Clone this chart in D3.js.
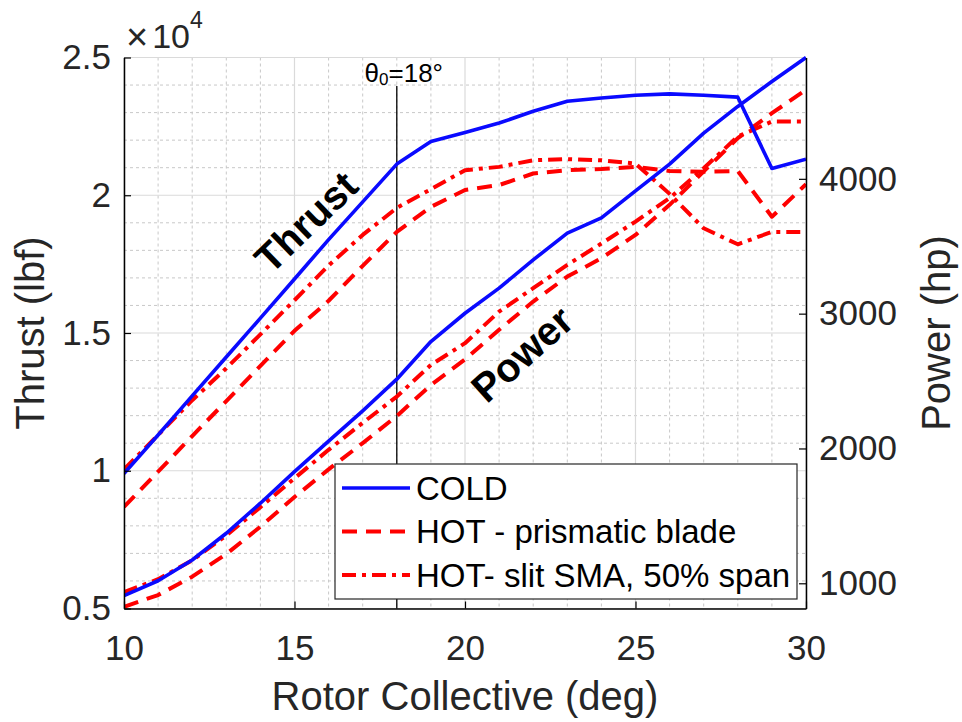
<!DOCTYPE html>
<html>
<head>
<meta charset="utf-8">
<script src="https://cdn.jsdelivr.net/npm/d3@7"></script>
<style>
  body { margin: 0; background: #fff; }
  svg { font-family: Helvetica, Arial, "Liberation Sans", sans-serif; }
</style>
</head>
<body>
<script>
// collective angle, deg
var collective = [10, 11, 12, 13, 14, 15, 16, 17, 18, 19, 20, 21, 22, 23, 24, 25, 26, 27, 28, 29, 30];

// thrust, lbf (left axis)
var coldThrust = [9900, 11300, 12720, 14130, 15540, 16960, 18390, 19760, 21130, 21950, 22280, 22620, 23050, 23410, 23530, 23630, 23680, 23630, 23560, 20970, 21310];
var hotPrisThrust = [8690, 9970, 11260, 12530, 13810, 15080, 16170, 17440, 18670, 19580, 20190, 20370, 20790, 20910, 20950, 21030, 20880, 20850, 20880, 19220, 20400];
var hotSlitThrust = [10050, 11300, 12560, 13720, 14950, 16190, 17450, 18560, 19540, 20220, 20910, 21030, 21270, 21310, 21270, 21150, 20050, 18800, 18220, 18670, 18670];

// power, hp (right axis)
var coldPower = [908, 1019, 1173, 1371, 1594, 1828, 2054, 2279, 2514, 2793, 3003, 3189, 3399, 3597, 3710, 3911, 4109, 4339, 4537, 4722, 4900];
var hotPrisPower = [826, 913, 1049, 1217, 1420, 1640, 1845, 2040, 2241, 2471, 2660, 2880, 3090, 3275, 3411, 3584, 3807, 4055, 4302, 4487, 4660];
var hotSlitPower = [935, 1030, 1170, 1355, 1565, 1779, 1990, 2190, 2385, 2620, 2781, 3015, 3189, 3362, 3520, 3683, 3857, 4079, 4314, 4425, 4425];

var xTicks = [10, 15, 20, 25, 30];
var thrustTicks = [5000, 10000, 15000, 20000, 25000];
var powerTicks = [1000, 2000, 3000, 4000];
var legendLabels = ['COLD', 'HOT - prismatic blade', 'HOT- slit SMA, 50% span'];

var plotLeft = 124, plotRight = 806, plotTop = 57.5, plotBottom = 608.5;
var textColor = '#262626';
var blue = '#0a0aff', red = '#ff0000';
var dashed = '15,9', dashDot = '14,6,4,6';

var svg = d3.select('body').append('svg')
    .attr('width', 962)
    .attr('height', 722);

var x = d3.scaleLinear().domain([10, 30]).range([plotLeft, plotRight]);
var yT = d3.scaleLinear().domain([5000, 25000]).range([plotBottom, plotTop]);
var yP = d3.scaleLinear().domain([813, 4900]).range([plotBottom, plotTop]);

svg.append('clipPath').attr('id', 'plot-clip')
    .append('rect')
    .attr('x', plotLeft).attr('y', plotTop - 3)
    .attr('width', plotRight - plotLeft).attr('height', plotBottom - plotTop + 3);

// grid, minor first
var grid = svg.append('g');
grid.selectAll('.minor-x')
    .data(d3.range(11, 30).filter(function(d) { return d % 5 !== 0; }))
    .enter().append('line')
    .attr('x1', function(d) { return x(d); }).attr('x2', function(d) { return x(d); })
    .attr('y1', plotTop).attr('y2', plotBottom)
    .attr('stroke', '#c8c8c8').attr('stroke-width', 1).attr('stroke-dasharray', '3,3');
grid.selectAll('.minor-y')
    .data(d3.range(6000, 25000, 1000).filter(function(d) { return d % 5000 !== 0; }))
    .enter().append('line')
    .attr('x1', plotLeft).attr('x2', plotRight)
    .attr('y1', function(d) { return yT(d); }).attr('y2', function(d) { return yT(d); })
    .attr('stroke', '#c8c8c8').attr('stroke-width', 1).attr('stroke-dasharray', '3,3');
grid.selectAll('.major-x')
    .data(xTicks)
    .enter().append('line')
    .attr('x1', function(d) { return x(d); }).attr('x2', function(d) { return x(d); })
    .attr('y1', plotTop).attr('y2', plotBottom)
    .attr('stroke', '#dadada').attr('stroke-width', 1.2);
grid.selectAll('.major-y')
    .data(thrustTicks)
    .enter().append('line')
    .attr('x1', plotLeft).attr('x2', plotRight)
    .attr('y1', function(d) { return yT(d); }).attr('y2', function(d) { return yT(d); })
    .attr('stroke', '#dadada').attr('stroke-width', 1.2);

// theta0 marker
svg.append('line')
    .attr('x1', x(18)).attr('x2', x(18))
    .attr('y1', 86).attr('y2', plotBottom)
    .attr('stroke', '#000').attr('stroke-width', 1.3);
var theta = svg.append('text')
    .attr('x', x(18) + 7).attr('y', 82)
    .attr('text-anchor', 'middle')
    .attr('font-size', 26)
    .attr('fill', '#000');
theta.append('tspan').text('\u03b8');
theta.append('tspan').attr('font-size', 17).attr('dy', 3).text('0');
theta.append('tspan').attr('dy', -3).text('=18\u00b0');

// curves
var plot = svg.append('g').attr('clip-path', 'url(#plot-clip)');

function drawSeries(values, yScale, color, dash) {
    var line = d3.line()
        .x(function(d, i) { return x(collective[i]); })
        .y(function(d) { return yScale(d); });
    plot.append('path')
        .datum(values)
        .attr('d', line)
        .attr('fill', 'none')
        .attr('stroke', color)
        .attr('stroke-width', dash ? 4 : 3.6)
        .attr('stroke-dasharray', dash)
        .attr('stroke-linejoin', 'round');
}

drawSeries(hotPrisThrust, yT, red, dashed);
drawSeries(hotSlitThrust, yT, red, dashDot);
drawSeries(hotPrisPower, yP, red, dashed);
drawSeries(hotSlitPower, yP, red, dashDot);
drawSeries(coldThrust, yT, blue, null);
drawSeries(coldPower, yP, blue, null);

// axes
var xAxis = svg.append('g')
    .attr('transform', 'translate(0,' + plotBottom + ')')
    .call(d3.axisBottom(x).tickValues(xTicks).tickSize(-7).tickSizeOuter(0).tickPadding(27));
var yAxisL = svg.append('g')
    .attr('transform', 'translate(' + plotLeft + ',0)')
    .call(d3.axisLeft(yT).tickValues(thrustTicks).tickSize(-7).tickSizeOuter(0).tickPadding(13)
        .tickFormat(function(d) { return d / 10000; }));
var yAxisR = svg.append('g')
    .attr('transform', 'translate(' + plotRight + ',0)')
    .call(d3.axisRight(yP).tickValues(powerTicks).tickSize(-7).tickSizeOuter(0).tickPadding(13)
        .tickFormat(d3.format('d')));

[xAxis, yAxisL, yAxisR].forEach(function(a) {
    a.select('.domain').attr('stroke', '#000').attr('stroke-width', 1.5);
    a.selectAll('.tick line').attr('stroke', '#000').attr('stroke-width', 1.2);
    a.selectAll('.tick text')
        .attr('font-size', 35)
        .attr('fill', textColor)
        .style('font-family', 'Helvetica, Arial, "Liberation Sans", sans-serif');
});

// axis labels
svg.append('text')
    .attr('x', 465).attr('y', 710)
    .attr('text-anchor', 'middle')
    .attr('font-size', 40).attr('fill', textColor)
    .text('Rotor Collective (deg)');
svg.append('text')
    .attr('transform', 'translate(44,' + (plotTop + plotBottom) / 2 + ') rotate(-90)')
    .attr('text-anchor', 'middle')
    .attr('font-size', 40).attr('fill', textColor)
    .text('Thrust (lbf)');
svg.append('text')
    .attr('transform', 'translate(950,' + (plotTop + plotBottom) / 2 + ') rotate(-90)')
    .attr('text-anchor', 'middle')
    .attr('font-size', 40).attr('fill', textColor)
    .text('Power (hp)');

// exponent
var expo = svg.append('text').attr('x', 126).attr('y', 48).attr('fill', textColor).attr('font-size', 34);
expo.append('tspan').attr('font-size', 38).attr('dy', 2).text('\u00d7');
expo.append('tspan').attr('dx', 4).attr('dy', -2).text('10');
expo.append('tspan').attr('font-size', 23).attr('dy', -20).text('4');

// curve annotations
svg.append('text')
    .attr('transform', 'translate(306,222) rotate(-44)')
    .attr('text-anchor', 'middle')
    .attr('dy', '0.35em')
    .attr('font-size', 40).attr('font-weight', 'bold').attr('fill', '#000')
    .text('Thrust');
svg.append('text')
    .attr('transform', 'translate(522,354) rotate(-42)')
    .attr('text-anchor', 'middle')
    .attr('dy', '0.35em')
    .attr('font-size', 40).attr('font-weight', 'bold').attr('fill', '#000')
    .text('Power');

// legend
var legend = svg.append('g');
legend.append('rect')
    .attr('x', 335).attr('y', 464)
    .attr('width', 462).attr('height', 135)
    .attr('fill', '#fff').attr('stroke', textColor).attr('stroke-width', 1.2);
var legendStyles = [[blue, null], [red, dashed], [red, dashDot]];
legendLabels.forEach(function(label, i) {
    var yy = 488 + i * 43.5;
    legend.append('line')
        .attr('x1', 342).attr('x2', 410)
        .attr('y1', yy).attr('y2', yy)
        .attr('stroke', legendStyles[i][0])
        .attr('stroke-width', legendStyles[i][1] ? 4 : 3.6)
        .attr('stroke-dasharray', legendStyles[i][1]);
    legend.append('text')
        .attr('x', 416).attr('y', yy)
        .attr('dy', '0.36em')
        .attr('font-size', 33).attr('fill', '#000')
        .text(label);
});
</script>
</body>
</html>
